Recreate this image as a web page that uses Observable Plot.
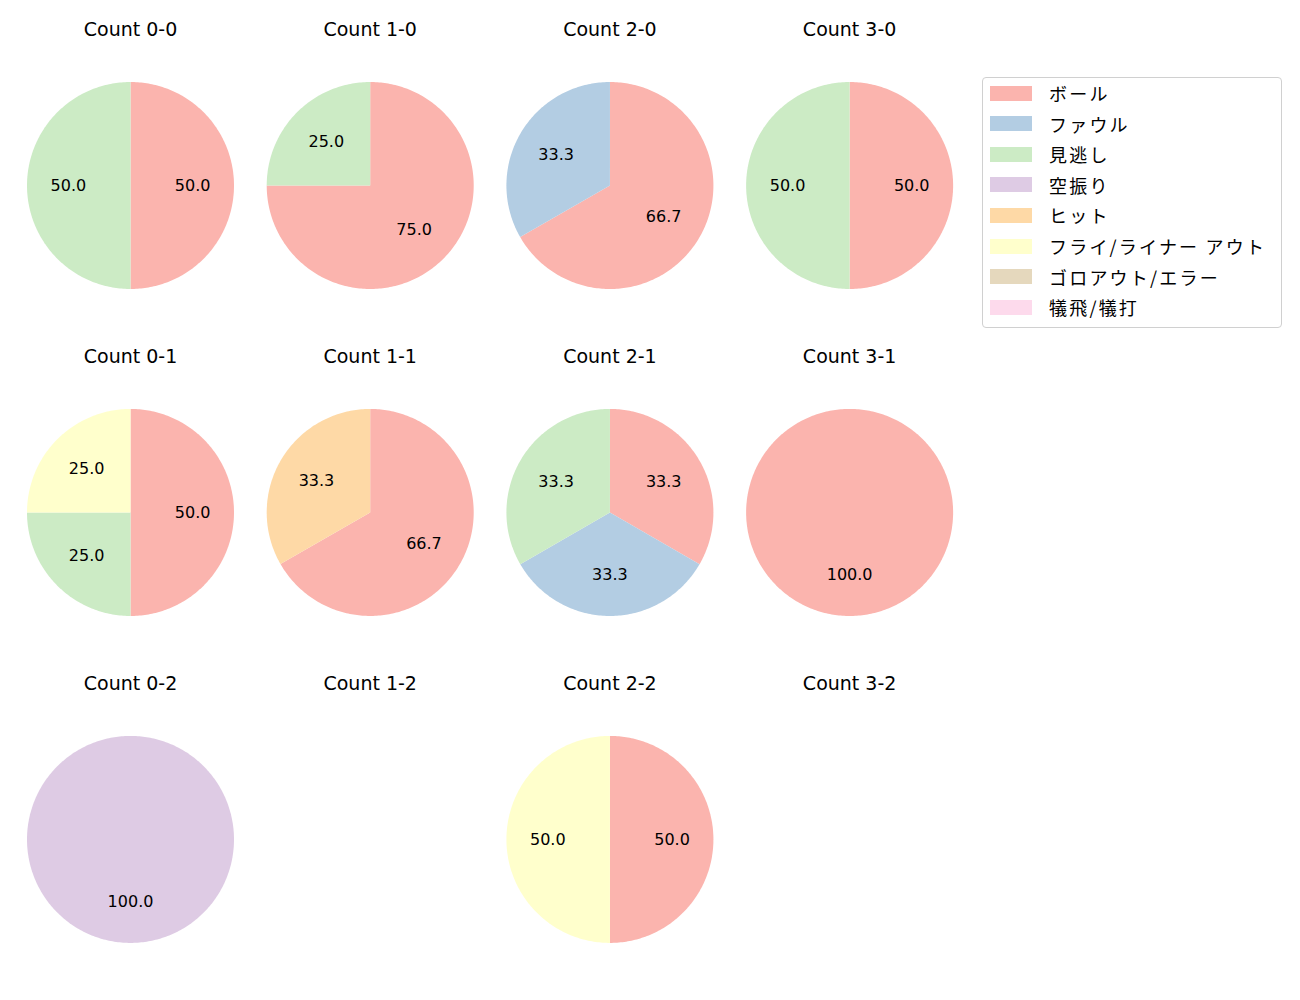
<!DOCTYPE html>
<html>
<head>
<meta charset="utf-8">
<script src="https://cdn.jsdelivr.net/npm/d3@7"></script>
<script src="https://cdn.jsdelivr.net/npm/@observablehq/plot@0.6"></script>
<style>
  html, body { margin: 0; padding: 0; background: #fff; }
  #wrap { position: relative; width: 1300px; height: 1000px; font-family: "Noto Sans CJK JP", "Noto Sans", sans-serif; }
  #chart { position: absolute; left: 0; top: 0; }
  #legend { position: absolute; left: 982px; top: 77px; width: 300px; height: 251px; border: 1px solid #d0d0d0; border-radius: 4px; box-sizing: border-box; background: #fff; }
  .item { position: absolute; left: 7px; height: 20px; display: flex; align-items: center; font-size: 18px; letter-spacing: 2.2px; color: #000; white-space: nowrap; }
  .sw { width: 42px; height: 15px; margin-right: 17px; flex: none; }
</style>
</head>
<body>
<div id="wrap">
  <div id="chart"></div>
  <div id="legend"></div>
</div>
<script>
// ---- data ----
const categories = ["ボール", "ファウル", "見逃し", "空振り", "ヒット", "フライ/ライナー アウト", "ゴロアウト/エラー", "犠飛/犠打"];
const colors = ["#fbb4ae", "#b3cde3", "#ccebc5", "#decbe4", "#fed9a6", "#ffffcc", "#e5d8bd", "#fddaec"];
const balls = [0, 1, 2, 3];
const strikes = [0, 1, 2];
// percentages per count, in category order
const count00 = [50, 0, 50, 0, 0, 0, 0, 0];
const count10 = [75, 0, 25, 0, 0, 0, 0, 0];
const count20 = [66.7, 33.3, 0, 0, 0, 0, 0, 0];
const count30 = [50, 0, 50, 0, 0, 0, 0, 0];
const count01 = [50, 0, 25, 0, 0, 25, 0, 0];
const count11 = [66.7, 0, 0, 0, 33.3, 0, 0, 0];
const count21 = [33.3, 33.3, 33.3, 0, 0, 0, 0, 0];
const count31 = [100, 0, 0, 0, 0, 0, 0, 0];
const count02 = [0, 0, 0, 100, 0, 0, 0, 0];
const count12 = [0, 0, 0, 0, 0, 0, 0, 0];
const count22 = [50, 0, 0, 0, 0, 50, 0, 0];
const count32 = [0, 0, 0, 0, 0, 0, 0, 0];
const countValues = {
  "0-0": count00, "1-0": count10, "2-0": count20, "3-0": count30,
  "0-1": count01, "1-1": count11, "2-1": count21, "3-1": count31,
  "0-2": count02, "1-2": count12, "2-2": count22, "3-2": count32
};

// ---- layout (in pie-radius units) ----
const colStep = 2.316, rowStep = 3.159;

const slices = [], labels = [], titles = [];
for (const s of strikes) {
  for (const b of balls) {
    const key = `${b}-${s}`;
    const vals = countValues[key];
    const cx = b * colStep, cy = s * rowStep;
    titles.push({key, x: cx, y: cy - 1.507});
    const total = d3.sum(vals);
    if (!total) continue;
    let a = 90; // degrees, clockwise from top
    vals.forEach((v, i) => {
      if (!v) return;
      const sweep = 360 * v / total;
      const a0 = a, a1 = a - sweep;
      const n = Math.max(2, Math.ceil(sweep / 1));
      const pts = [];
      if (sweep < 359.99) pts.push({x: cx, y: cy});
      for (let k = 0; k <= n; k++) {
        const t = (a0 + (a1 - a0) * k / n) * Math.PI / 180;
        pts.push({x: cx + Math.cos(t), y: cy - Math.sin(t)});
      }
      slices.push({id: key + "_" + i, cat: categories[i], pts});
      const m = ((a0 + a1) / 2) * Math.PI / 180;
      labels.push({x: cx + 0.6 * Math.cos(m), y: cy - 0.6 * Math.sin(m), text: v.toFixed(1)});
      a = a1;
    });
  }
}
const slicePoints = slices.flatMap(sl => sl.pts.map(p => ({...p, id: sl.id, cat: sl.cat})));

const W = 960, H = 1000, R = 103.5;
const latin = '"DejaVu Sans", sans-serif';
const chart = Plot.plot({
  width: W, height: H,
  margin: 0,
  x: {domain: [-130 / R, (W - 130) / R], range: [0, W], axis: null},
  y: {domain: [-185 / R, (H - 185) / R], range: [0, H], axis: null},
  color: {domain: categories, range: colors},
  style: {fontFamily: latin},
  marks: [
    Plot.line(slicePoints, {x: "x", y: "y", z: "id", fill: "cat", stroke: "none", curve: "linear"}),
    Plot.text(labels, {x: "x", y: "y", text: "text", fontSize: 16, fill: "#000", fontFamily: latin}),
    Plot.text(titles, {x: "x", y: "y", text: d => "Count " + d.key, fontSize: 19, fill: "#000", fontFamily: latin})
  ]
});
document.getElementById("chart").appendChild(chart);

// ---- legend ----
const legend = document.getElementById("legend");
categories.forEach((c, i) => {
  const item = document.createElement("div");
  item.className = "item";
  item.style.top = (5 + i * 30.6) + "px";
  const sw = document.createElement("div");
  sw.className = "sw";
  sw.style.background = colors[i];
  const label = document.createElement("span");
  label.textContent = c;
  item.appendChild(sw);
  item.appendChild(label);
  legend.appendChild(item);
});
</script>
</body>
</html>
